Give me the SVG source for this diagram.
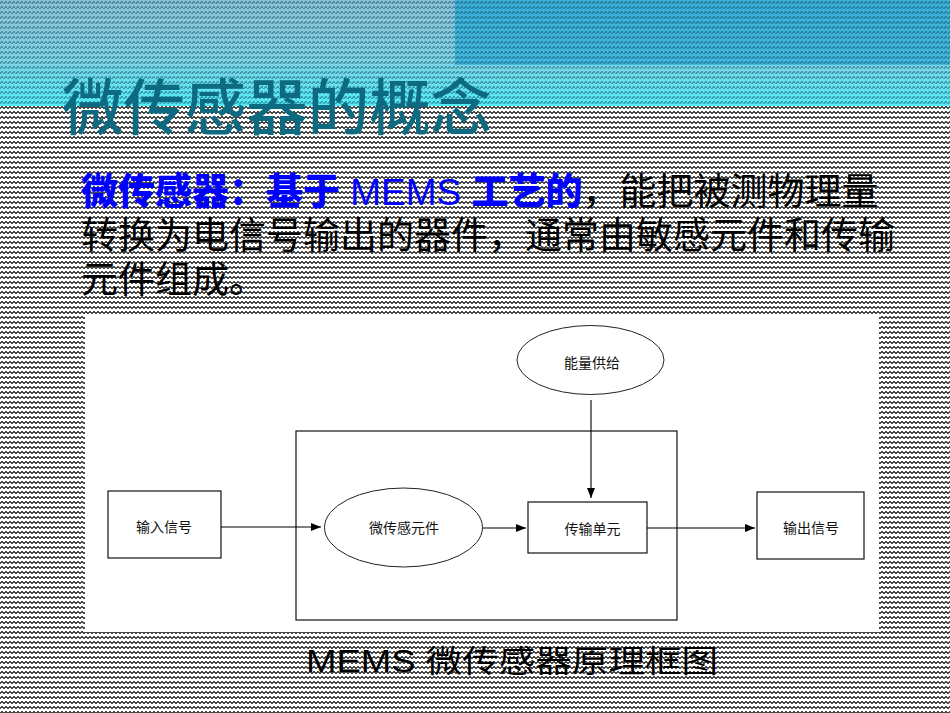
<svg xmlns="http://www.w3.org/2000/svg" width="950" height="713" viewBox="0 0 950 713">
<defs>
<linearGradient id="bandL" x1="0" y1="0" x2="0" y2="1">
<stop offset="0" stop-color="#8cc0d6"/>
<stop offset="0.55" stop-color="#80d2e4"/>
<stop offset="1" stop-color="#52eaf6"/>
</linearGradient>
<linearGradient id="bandR" x1="0" y1="0" x2="0" y2="1">
<stop offset="0" stop-color="#3aaed6"/>
<stop offset="1" stop-color="#42b6dc"/>
</linearGradient>
<pattern id="zigBand" width="4" height="5" patternUnits="userSpaceOnUse">
<path d="M0,4 L2,1.5 L4,4" fill="none" stroke="#0a4a5a" stroke-opacity="0.45" stroke-width="1.1" shape-rendering="crispEdges"/>
</pattern>
<pattern id="zig" width="4" height="5" patternUnits="userSpaceOnUse">
<path d="M0,4 L2,1.5 L4,4" fill="none" stroke="#1a1a1a" stroke-opacity="0.8" stroke-width="1.2" shape-rendering="crispEdges"/>
</pattern>
<marker id="arr" markerUnits="userSpaceOnUse" markerWidth="10" markerHeight="8" refX="10" refY="4" orient="auto">
<path d="M0,0 L10,4 L0,8 Z" fill="#000"/>
</marker>
<style>
.cjk{font-family:"Liberation Sans","Noto Sans CJK SC",sans-serif;}
.box{fill:#fff;stroke:#111;stroke-width:1.2;}
.ell{fill:#fff;stroke:#222;stroke-width:1;}
.lbl{font-family:"Noto Sans CJK SC",sans-serif;font-size:14px;fill:#111;text-anchor:middle;}
.conn{stroke:#000;stroke-width:1.1;fill:none;marker-end:url(#arr);}
</style>
</defs>

<g id="background">
<rect x="0" y="0" width="950" height="713" fill="#fff"/>
<rect x="0" y="106" width="950" height="607" fill="url(#zig)"/>
<rect x="0" y="0" width="950" height="106" fill="url(#bandL)"/>
<rect x="455" y="0" width="495" height="65" fill="url(#bandR)"/>
<rect x="0" y="0" width="950" height="106" fill="url(#zigBand)"/>
</g>

<g id="title">
<text x="62" y="130" class="cjk" font-size="61" font-weight="500" fill="#0d6a80" textLength="430" lengthAdjust="spacingAndGlyphs">微传感器的概念</text>
</g>

<g id="body" class="cjk" font-size="37">
<text x="81" y="205"><tspan fill="#0000ff" font-weight="900">微传感器：基于</tspan><tspan fill="#0000ff"> MEMS </tspan><tspan fill="#0000ff" font-weight="900">工艺的</tspan><tspan fill="#000">，能把被测物理量</tspan></text>
<text x="81" y="249" fill="#000">转换为电信号输出的器件，通常由敏感元件和传输</text>
<text x="81" y="293" fill="#000">元件组成。</text>
</g>

<g id="panel">
<rect x="85" y="316" width="794" height="316" fill="#fff"/>
</g>

<g id="node-outer">
<rect x="296" y="431" width="381" height="189" fill="none" stroke="#111" stroke-width="1.2"/>
</g>

<g id="node-input">
<rect class="box" x="108" y="491" width="113" height="67"/>
<text class="lbl" x="164" y="532">输入信号</text>
</g>

<g id="node-sensor">
<ellipse class="ell" cx="403.5" cy="527.5" rx="79" ry="39.5"/>
<text class="lbl" x="404" y="533">微传感元件</text>
</g>

<g id="node-power">
<ellipse class="ell" cx="590.5" cy="360" rx="73.5" ry="34.5"/>
<text class="lbl" x="592" y="368">能量供给</text>
</g>

<g id="node-transfer">
<rect class="box" x="528" y="502" width="119" height="51"/>
<text class="lbl" x="592.5" y="534">传输单元</text>
</g>

<g id="node-output">
<rect class="box" x="757" y="492" width="107" height="67"/>
<text class="lbl" x="811" y="533">输出信号</text>
</g>

<g id="connectors">
<line class="conn" x1="221" y1="527" x2="321" y2="527"/>
<line class="conn" x1="482.5" y1="528" x2="526" y2="528"/>
<line class="conn" x1="647" y1="528" x2="755" y2="528"/>
<line class="conn" x1="591" y1="400" x2="591" y2="498"/>
</g>

<g id="caption">
<text x="306" y="672" class="cjk" font-size="31" fill="#000" textLength="412" lengthAdjust="spacingAndGlyphs">MEMS 微传感器原理框图</text>
</g>
</svg>
